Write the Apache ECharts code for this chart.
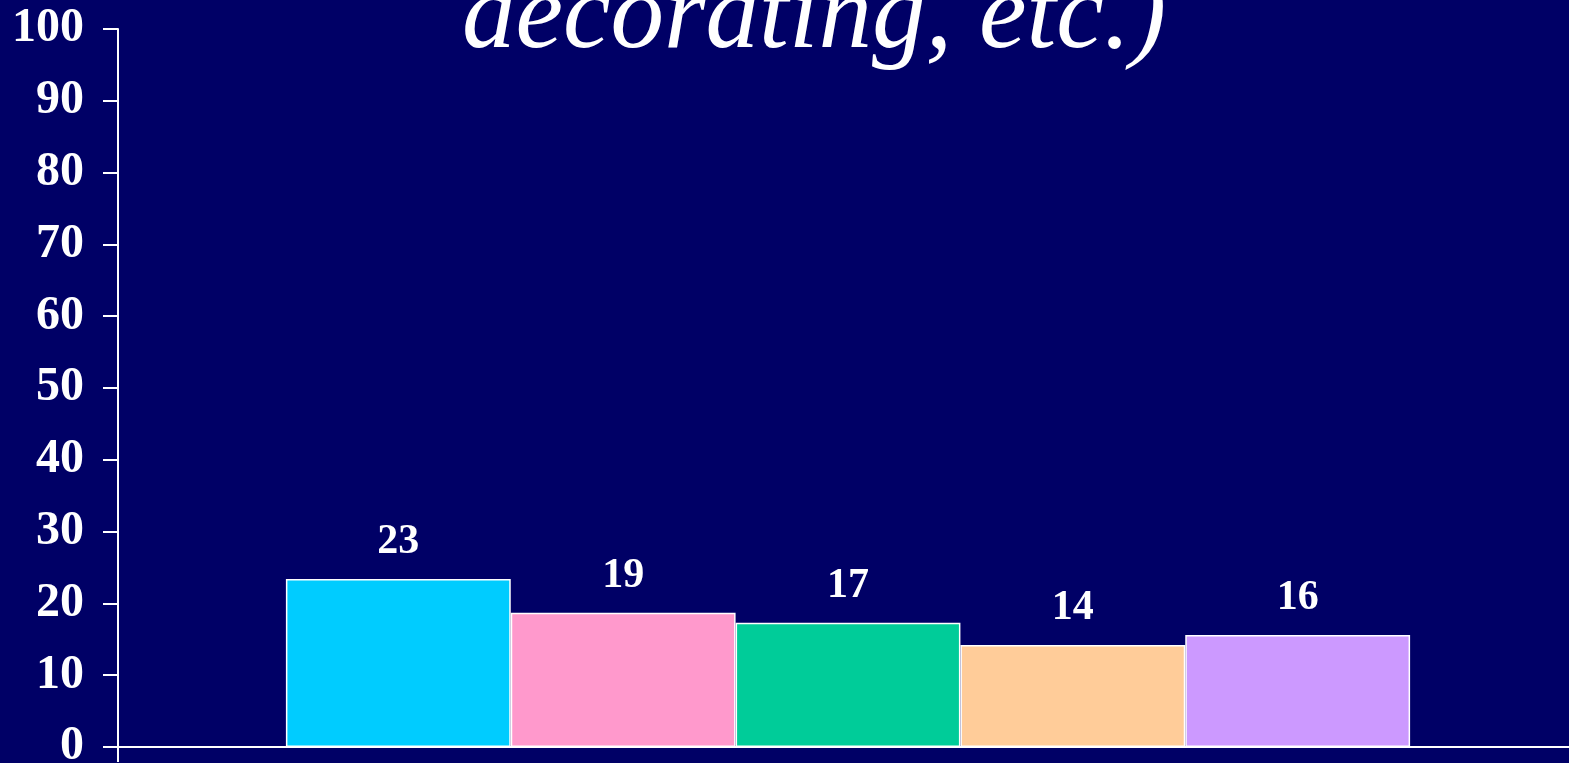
<!DOCTYPE html>
<html><head><meta charset="utf-8">
<script src="https://cdn.jsdelivr.net/npm/echarts@6/dist/echarts.min.js"></script>
<style>html,body{margin:0;padding:0;background:#000066;overflow:hidden;}#c{width:1569px;height:763px;}</style>
</head><body><div id="c"></div>
<script>
const titleText = 'decorating, etc.)';
const categories = [''];
const seriesNames = ['A', 'B', 'C', 'D', 'E'];
const values = [23.4, 18.7, 17.3, 14.2, 15.6];
const valueLabels = ['23', '19', '17', '14', '16'];
const colors = ['#00CCFF', '#FF99CC', '#00CC99', '#FFCC99', '#CC99FF'];
const yTicks = { min: 0, max: 100, interval: 10 };

const chart = echarts.init(document.getElementById('c'));
chart.setOption({
  backgroundColor: '#000066',
  animation: false,
  graphic: [{
    type: 'text', left: 462, top: -35,
    style: { text: titleText, fill: '#fff', font: 'italic 107px "Liberation Serif", "Times New Roman", serif' }
  }],
  grid: { left: 118, right: -9, top: 29, bottom: 16, containLabel: false, outerBoundsMode: 'none' },
  xAxis: {
    type: 'category', data: categories,
    axisLine: { lineStyle: { color: '#fff', width: 2 } },
    axisTick: { show: true, inside: false, length: 15, lineStyle: { color: '#fff', width: 2 } },
    axisLabel: { show: false }
  },
  yAxis: {
    type: 'value', min: yTicks.min, max: yTicks.max, interval: yTicks.interval,
    splitLine: { show: false },
    axisLine: { show: true, lineStyle: { color: '#fff', width: 2 } },
    axisTick: { show: true, length: 15, lineStyle: { color: '#fff', width: 2 } },
    axisLabel: { color: '#fff', margin: 34, fontFamily: '"Liberation Serif", "Times New Roman", serif', fontWeight: 'bold', fontSize: 48 }
  },
  series: seriesNames.map((n, i) => ({
    type: 'bar', name: n, data: [values[i]],
    barGap: '0%', barCategoryGap: '23%',
    itemStyle: { color: colors[i], borderColor: '#fff', borderWidth: 1.5 },
    label: {
      show: true, position: 'top', distance: 16,
      formatter: () => valueLabels[i],
      color: '#fff', fontFamily: '"Liberation Serif", "Times New Roman", serif', fontWeight: 'bold', fontSize: 42
    }
  }))
});
</script></body></html>
